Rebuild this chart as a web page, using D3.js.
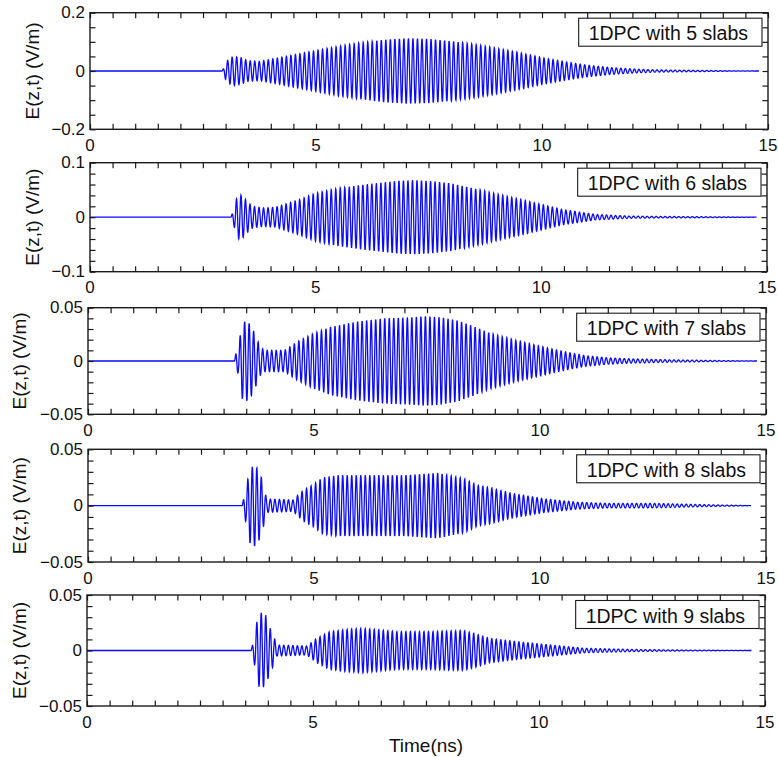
<!DOCTYPE html>
<html>
<head>
<meta charset="utf-8">
<script src="https://cdn.jsdelivr.net/npm/d3@7"></script>
<style>
  html, body { margin: 0; padding: 0; background: #fff; }
  svg { display: block; font-family: "Liberation Sans", Arial, Helvetica, sans-serif; }
</style>
</head>
<body>
<svg id="chart" width="778" height="757"></svg>
<script>
// ---------------- DATA ----------------
const slabCounts = [5, 6, 7, 8, 9];
const timeTickLabels = [0, 5, 10, 15];
const yLimits = [0.2, 0.1, 0.05, 0.05, 0.05];
const yMinorSteps = [0.05, 0.02, 0.01, 0.01, 0.01];
const yTickLabels = [["−0.2", "0", "0.2"], ["−0.1", "0", "0.1"], ["−0.05", "0", "0.05"], ["−0.05", "0", "0.05"], ["−0.05", "0", "0.05"]];
const carrierPeriodNs = 0.1;          // oscillation period
const onsetNs = [2.92, 3.12, 3.24, 3.41, 3.63];
const endNs = [14.8, 14.77, 14.8, 14.67, 14.7];

// envelope (peak amplitude, V/m) of each trace, at the listed times (ns)
const envT5 = [0, 2.92, 2.96, 3.0, 3.1, 3.2, 3.35, 3.5, 3.75, 4.0, 4.5, 5.0, 5.5, 6.0, 6.5, 7.0, 7.5, 8.0, 8.5, 9.0, 9.5, 10.0, 10.5, 11.0, 11.5, 12.0, 12.5, 13.0, 13.5, 14.0, 14.8];
const envA5 = [0, 0, 0.01, 0.03, 0.045, 0.05, 0.045, 0.035, 0.033, 0.04, 0.055, 0.07, 0.085, 0.097, 0.107, 0.112, 0.11, 0.102, 0.092, 0.078, 0.063, 0.046, 0.032, 0.02, 0.012, 0.007, 0.004, 0.003, 0.002, 0.001, 0];

const envT6 = [0, 3.12, 3.17, 3.25, 3.32, 3.4, 3.5, 3.6, 3.8, 4.1, 4.63, 5.0, 5.5, 6.1, 6.85, 7.2, 7.6, 8.0, 8.65, 9.0, 9.73, 10.47, 11.2, 11.95, 12.5, 13.5, 14.77];
const envA6 = [0, 0, 0.01, 0.035, 0.042, 0.037, 0.027, 0.02, 0.017, 0.018, 0.032, 0.044, 0.053, 0.06, 0.067, 0.068, 0.066, 0.062, 0.05, 0.043, 0.029, 0.014, 0.005, 0.002, 0.0015, 0.001, 0];

const envT7 = [0, 3.24, 3.28, 3.33, 3.4, 3.5, 3.6, 3.7, 3.8, 3.9, 4.35, 4.63, 5.0, 5.37, 5.96, 6.55, 7.14, 7.47, 7.8, 8.18, 8.5, 8.9, 9.5, 10.0, 10.5, 11.0, 11.5, 12.0, 13.0, 14.8];
const envA7 = [0, 0, 0.009, 0.012, 0.035, 0.038, 0.034, 0.025, 0.014, 0.01, 0.01, 0.018, 0.026, 0.032, 0.037, 0.04, 0.041, 0.042, 0.041, 0.038, 0.033, 0.026, 0.019, 0.014, 0.009, 0.005, 0.003, 0.002, 0.001, 0];

const envT8 = [0, 3.41, 3.46, 3.52, 3.58, 3.69, 3.8, 3.88, 3.95, 4.56, 4.6, 4.78, 5.0, 5.19, 5.52, 6.1, 7.0, 7.73, 8.32, 8.62, 8.9, 9.36, 10.1, 10.84, 11.5, 12.5, 13.5, 14.67];
const envA8 = [0, 0, 0.009, 0.02, 0.033, 0.036, 0.03, 0.019, 0.006, 0.005, 0.008, 0.014, 0.019, 0.025, 0.027, 0.027, 0.027, 0.029, 0.024, 0.018, 0.016, 0.011, 0.006, 0.003, 0.002, 0.002, 0.001, 0];

const envT9 = [0, 3.63, 3.68, 3.72, 3.78, 3.86, 3.95, 4.05, 4.12, 4.2, 4.86, 4.93, 5.08, 5.37, 5.74, 6.1, 6.85, 7.58, 8.32, 8.6, 8.9, 9.5, 10.0, 10.5, 11.0, 12.0, 13.0, 14.7];
const envA9 = [0, 0, 0.008, 0.015, 0.032, 0.034, 0.032, 0.02, 0.014, 0.005, 0.004, 0.006, 0.011, 0.017, 0.019, 0.02, 0.017, 0.017, 0.018, 0.015, 0.011, 0.008, 0.006, 0.004, 0.002, 0.001, 0.0005, 0];

const envTimes = [envT5, envT6, envT7, envT8, envT9];
const envAmps = [envA5, envA6, envA7, envA8, envA9];

// ---------------- LAYOUT ----------------
const layout = [
  { top: 12.7, bottom: 129.3, left: 90, right: 768, titleX: 32 },
  { top: 162.7, bottom: 271.7, left: 90, right: 767, titleX: 32 },
  { top: 307.7, bottom: 414.3, left: 88, right: 766, titleX: 19 },
  { top: 449.3, bottom: 562, left: 88, right: 766, titleX: 19 },
  { top: 595, bottom: 706, left: 87, right: 765, titleX: 19 }
];
const tickLen = 5.5;
const frameColor = "#1a1a1a";
const lineColor = "#0a0aff";

const svg = d3.select("#chart");

layout.forEach((L, i) => {
  const x = d3.scaleLinear().domain([0, 15]).range([L.left, L.right]);
  const y = d3.scaleLinear().domain([-yLimits[i], yLimits[i]]).range([L.bottom, L.top]);
  const g = svg.append("g");

  // signal
  const env = d3.scaleLinear().domain(envTimes[i]).range(envAmps[i]).clamp(true);
  const pts = [];
  const step = 0.004;
  for (let t = 0; t <= endNs[i] + 1e-9; t += step) {
    let v = 0;
    if (t >= onsetNs[i]) v = env(t) * Math.sin(2 * Math.PI * (t - onsetNs[i]) / carrierPeriodNs);
    pts.push([t, v]);
  }
  g.append("path")
    .datum(pts)
    .attr("fill", "none")
    .attr("stroke", lineColor)
    .attr("stroke-width", 1.3)
    .attr("d", d3.line().x(d => x(d[0])).y(d => y(d[1])));

  // x axes (bottom & top), inward ticks every 0.5 ns
  const xMinor = d3.range(0, 15.0001, 0.5);
  const axB = d3.axisBottom(x).tickValues(xMinor).tickSizeInner(-tickLen).tickSizeOuter(0).tickFormat("");
  const axT = d3.axisTop(x).tickValues(xMinor).tickSizeInner(-tickLen).tickSizeOuter(0).tickFormat("");
  const yMinor = d3.range(-yLimits[i], yLimits[i] + 1e-9, yMinorSteps[i]);
  const axL = d3.axisLeft(y).tickValues(yMinor).tickSizeInner(-tickLen).tickSizeOuter(0).tickFormat("");
  const axR = d3.axisRight(y).tickValues(yMinor).tickSizeInner(-tickLen).tickSizeOuter(0).tickFormat("");
  [[axB, `translate(0,${L.bottom})`], [axT, `translate(0,${L.top})`], [axL, `translate(${L.left},0)`], [axR, `translate(${L.right},0)`]]
    .forEach(([ax, tr]) => {
      const a = g.append("g").attr("transform", tr).call(ax);
      a.select(".domain").remove();
      a.selectAll("text").remove();
      a.selectAll("line").attr("stroke", frameColor).attr("stroke-width", 1.2);
    });

  // frame
  g.append("rect")
    .attr("x", L.left).attr("y", L.top)
    .attr("width", L.right - L.left).attr("height", L.bottom - L.top)
    .attr("fill", "none").attr("stroke", frameColor).attr("stroke-width", 1.4);

  // x tick labels
  g.selectAll(".xl").data(timeTickLabels).enter().append("text")
    .attr("class", "xl")
    .attr("x", d => x(d)).attr("y", L.bottom + 16)
    .attr("text-anchor", "middle").attr("dominant-baseline", "central")
    .attr("font-size", 17).attr("fill", "#111").text(d => d);

  // y tick labels
  const yVals = [-yLimits[i], 0, yLimits[i]];
  g.selectAll(".yl").data(yVals).enter().append("text")
    .attr("class", "yl")
    .attr("x", L.left - 5).attr("y", d => y(d))
    .attr("text-anchor", "end").attr("dominant-baseline", "central")
    .attr("font-size", 17).attr("fill", "#111").text((d, k) => yTickLabels[i][k]);

  // y title
  const cy = (L.top + L.bottom) / 2;
  g.append("text")
    .attr("transform", `translate(${L.titleX},${cy}) rotate(-90)`)
    .attr("text-anchor", "middle").attr("dominant-baseline", "central")
    .attr("font-size", 19).attr("fill", "#111").text("E(z,t) (V/m)");

  // legend box
  const label = `1DPC with ${slabCounts[i]} slabs`;
  const box = g.append("rect");
  const txt = g.append("text")
    .attr("font-size", 19.5).attr("fill", "#111")
    .attr("dominant-baseline", "central").text(label);
  const tw = txt.node().getComputedTextLength();
  const bw = tw + 24, bh = 28;
  const bx = L.right - 6 - bw, by = L.top + 5.5;
  box.attr("x", bx).attr("y", by).attr("width", bw).attr("height", bh)
    .attr("fill", "#fff").attr("stroke", frameColor).attr("stroke-width", 1.1);
  txt.attr("x", bx + 10).attr("y", by + bh / 2 + 1);
});

// x title
svg.append("text")
  .attr("x", 426).attr("y", 745)
  .attr("text-anchor", "middle").attr("dominant-baseline", "central")
  .attr("font-size", 19).attr("fill", "#111").text("Time(ns)");
</script>
</body>
</html>
